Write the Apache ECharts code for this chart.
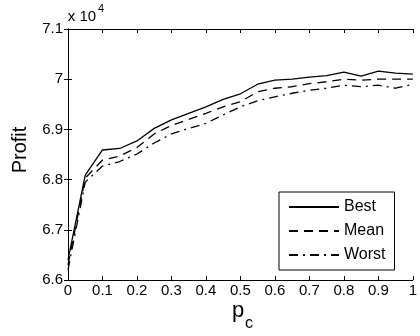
<!DOCTYPE html>
<html>
<head>
<meta charset="utf-8">
<script src="https://cdn.jsdelivr.net/npm/echarts@6/dist/echarts.min.js"></script>
<style>
html,body{margin:0;padding:0;background:#fff;}
#chart{width:420px;height:336px;}
</style>
</head>
<body>
<div id="chart"></div>
<script>
// Crossover probability p_c
var pc = [0, 0.05, 0.1, 0.15, 0.2, 0.25, 0.3, 0.35, 0.4, 0.45, 0.5, 0.55, 0.6, 0.65, 0.7, 0.75, 0.8, 0.85, 0.9, 0.95, 1];
// Profit values
var best  = [66400, 68090, 68590, 68620, 68770, 69020, 69190, 69320, 69450, 69600, 69710, 69900, 69980, 70000, 70040, 70070, 70140, 70060, 70160, 70120, 70100];
var mean  = [66300, 68030, 68390, 68470, 68640, 68910, 69080, 69200, 69320, 69450, 69550, 69750, 69820, 69850, 69910, 69950, 70000, 69980, 70000, 70000, 70000];
var worst = [66200, 67950, 68270, 68360, 68510, 68730, 68910, 69020, 69120, 69290, 69450, 69570, 69650, 69720, 69780, 69820, 69880, 69850, 69880, 69820, 69900];
var seriesNames = ['Best', 'Mean', 'Worst'];
var yTicks = {min: 66000, max: 71000, step: 1000, scale: 10000};

function pairs(ys) { return pc.map(function (x, i) { return [x, ys[i]]; }); }

var font = '"Liberation Sans", Arial, Helvetica, sans-serif';
var chart = echarts.init(document.getElementById('chart'), null, {renderer: 'canvas'});

var boxAxisCommon = {
  axisLine: {show: true, lineStyle: {color: '#000', width: 1}},
  axisTick: {show: true, inside: true, length: 4, lineStyle: {color: '#000'}},
  splitLine: {show: false}
};

function txt(s, x, y, size, rot) {
  return {type: 'text', x: x, y: y, rotation: rot || 0,
    style: {text: s, fill: '#000', fontSize: size, fontFamily: font,
      textAlign: 'center', textVerticalAlign: 'middle'}};
}

chart.setOption({
  backgroundColor: '#fff',
  animation: false,
  grid: {left: 68, right: 4, top: 29, bottom: 56, containLabel: false},
  xAxis: [
    Object.assign({
      type: 'value', min: 0, max: 1, interval: 0.1, position: 'bottom',
      axisLabel: {color: '#000', fontSize: 15, fontFamily: font, margin: 3,
        formatter: function (v) { return String(Math.round(v * 10) / 10); }}
    }, boxAxisCommon),
    Object.assign({
      type: 'value', min: 0, max: 1, interval: 0.1, position: 'top',
      axisLabel: {show: false}
    }, boxAxisCommon)
  ],
  yAxis: [
    Object.assign({
      type: 'value', min: yTicks.min, max: yTicks.max, interval: yTicks.step, position: 'left',
      axisLabel: {color: '#000', fontSize: 15, fontFamily: font, margin: 5,
        formatter: function (v) { return String(Math.round(v / yTicks.scale * 10) / 10); }}
    }, boxAxisCommon),
    Object.assign({
      type: 'value', min: yTicks.min, max: yTicks.max, interval: yTicks.step, position: 'right',
      axisLabel: {show: false}
    }, boxAxisCommon)
  ],
  legend: {
    data: seriesNames,
    orient: 'vertical',
    left: 279, top: 192,
    itemWidth: 50, itemHeight: 14, itemGap: 8,
    padding: [7, 9, 7, 9],
    borderColor: '#000', borderWidth: 1, borderRadius: 0,
    backgroundColor: '#fff',
    itemStyle: {opacity: 0, borderWidth: 0},
    textStyle: {color: '#000', fontSize: 16, fontFamily: font},
    selectedMode: false
  },
  series: [
    {name: seriesNames[0], type: 'line', data: pairs(best), showSymbol: false, symbol: 'none',
      lineStyle: {color: '#000', width: 1.3, type: 'solid'}, itemStyle: {color: '#000'}},
    {name: seriesNames[1], type: 'line', data: pairs(mean), showSymbol: false, symbol: 'none',
      lineStyle: {color: '#000', width: 1.3, type: [9, 6]}, itemStyle: {color: '#000'}},
    {name: seriesNames[2], type: 'line', data: pairs(worst), showSymbol: false, symbol: 'none',
      lineStyle: {color: '#000', width: 1.3, type: [9, 5, 2, 5]}, itemStyle: {color: '#000'}}
  ],
  graphic: [
    txt('Profit', 20, 150, 20, Math.PI / 2),
    txt('p', 238, 311, 22),
    txt('c', 249, 324, 16),
    txt('x 10', 82, 17, 15),
    txt('4', 101, 9, 11)
  ]
});
</script>
</body>
</html>
